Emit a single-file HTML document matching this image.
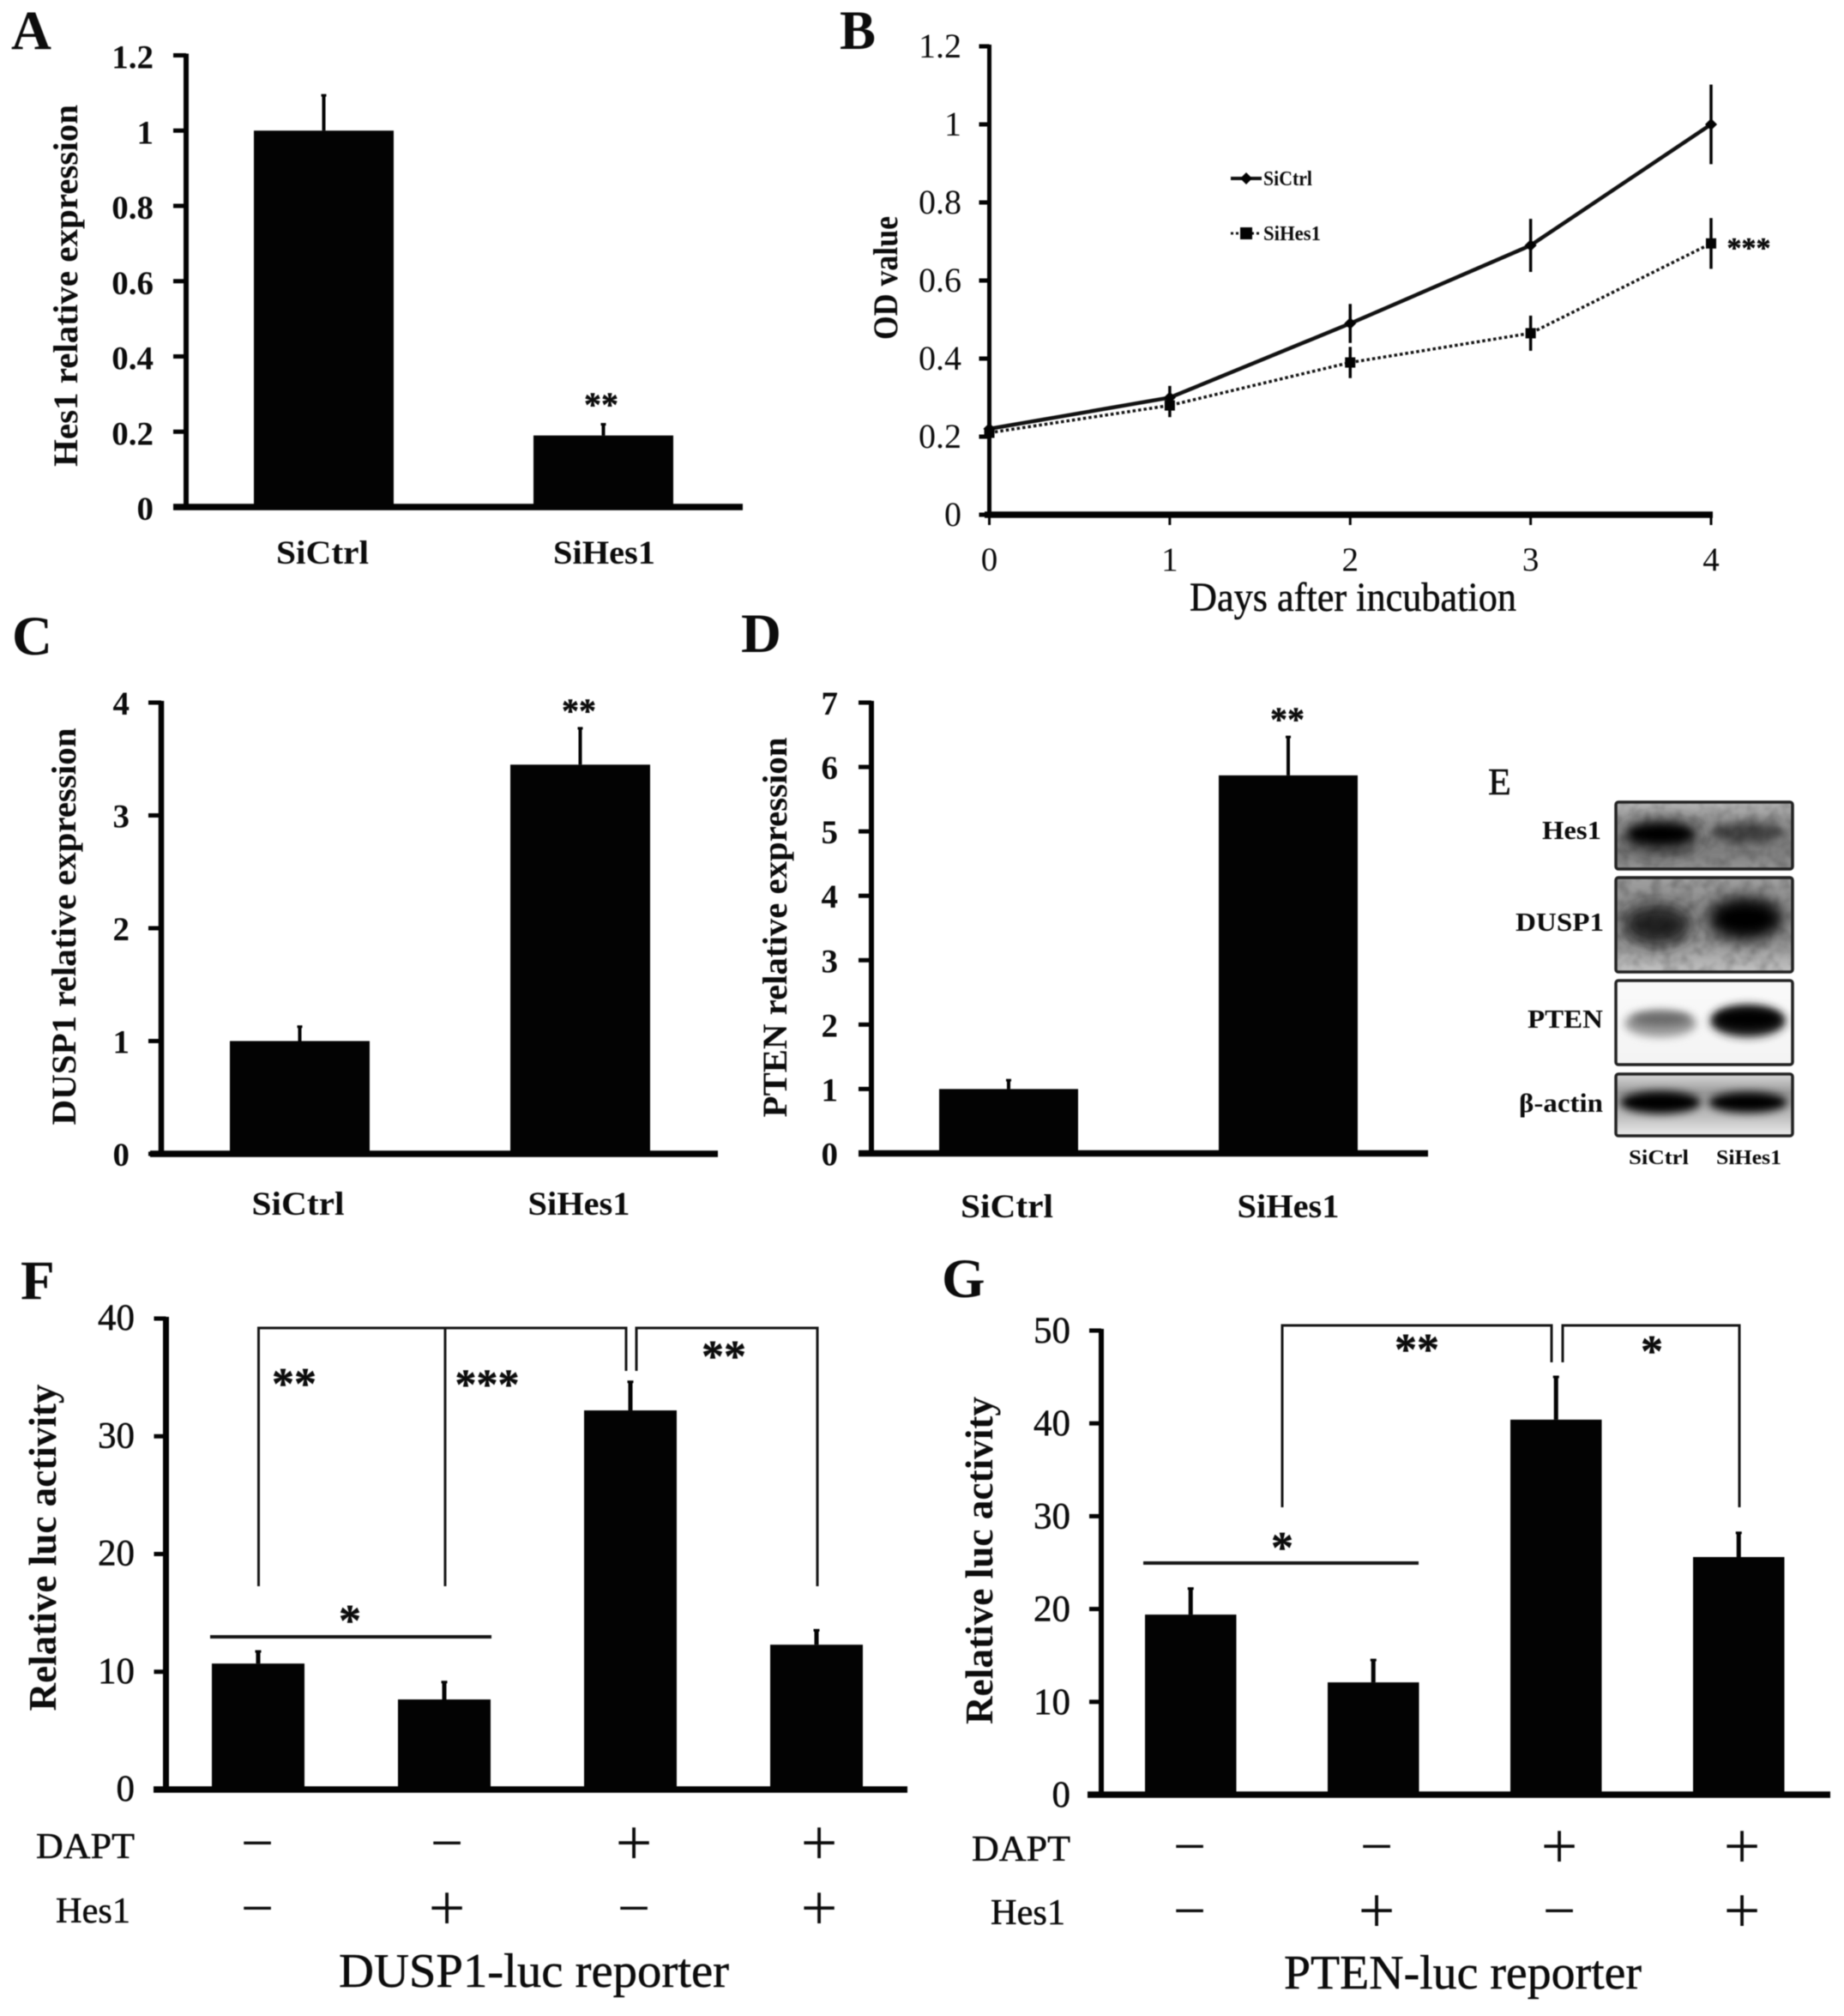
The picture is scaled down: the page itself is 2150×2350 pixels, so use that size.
<!DOCTYPE html>
<html lang="en">
<head>
<meta charset="utf-8">
<title>Hes1 knockdown figure panels</title>
<style>
html,body{margin:0;padding:0;background:#fff;width:2150px;height:2350px;overflow:hidden}
svg{display:block;filter:blur(0.55px)}
text{font-family:"Liberation Serif","DejaVu Serif",serif;fill:#0c0c0c}
.letter{font-size:65px;font-weight:bold}
.star{font-weight:bold;text-anchor:middle;stroke:#0c0c0c;stroke-width:.5px}
.lbl{stroke:#0c0c0c;stroke-width:.5px}
.br{stroke:#151515;stroke-width:3px;fill:none}
.bl{stroke:#151515;stroke-width:4px;fill:none}
.box{fill:none;stroke:#222;stroke-width:3.5px}
</style>
</head>
<body>
<svg id="figure" xmlns="http://www.w3.org/2000/svg" width="2150" height="2350" viewBox="0 0 2150 2350">
  <defs>
    <filter id="b4" x="-50%" y="-120%" width="200%" height="340%"><feGaussianBlur stdDeviation="5"/></filter>
    <filter id="b8" x="-50%" y="-120%" width="200%" height="340%"><feGaussianBlur stdDeviation="9"/></filter>
    <filter id="grain" x="0" y="0" width="100%" height="100%"><feTurbulence type="fractalNoise" baseFrequency="0.08" numOctaves="2" seed="4"/><feColorMatrix type="matrix" values="0 0 0 0 0 0 0 0 0 0 0 0 0 0 0 1.3 0 0 0 -0.5"/><feGaussianBlur stdDeviation="1"/></filter>
    <linearGradient id="g1" x1="0" y1="0" x2="0" y2="1"><stop offset="0" stop-color="#b8b8b8"/><stop offset=".3" stop-color="#8e8e8e"/><stop offset=".75" stop-color="#7e7e7e"/><stop offset="1" stop-color="#959595"/></linearGradient>
    <linearGradient id="g2" x1="0" y1="0" x2="0" y2="1"><stop offset="0" stop-color="#a0a0a0"/><stop offset=".3" stop-color="#8c8c8c"/><stop offset=".7" stop-color="#999"/><stop offset="1" stop-color="#c2c2c2"/></linearGradient>
    <linearGradient id="g3" x1="0" y1="0" x2="0" y2="1"><stop offset="0" stop-color="#fafafa"/><stop offset="1" stop-color="#f4f4f4"/></linearGradient>
    <linearGradient id="g4" x1="0" y1="0" x2="0" y2="1"><stop offset="0" stop-color="#d8d8d8"/><stop offset=".3" stop-color="#9a9a9a"/><stop offset=".7" stop-color="#c0c0c0"/><stop offset="1" stop-color="#ececec"/></linearGradient>
    <clipPath id="c1"><rect x="1884" y="935" width="206" height="78"/></clipPath>
    <clipPath id="c2"><rect x="1884" y="1023" width="206" height="110"/></clipPath>
    <clipPath id="c3"><rect x="1884" y="1143" width="206" height="98"/></clipPath>
    <clipPath id="c4"><rect x="1884" y="1252" width="206" height="72"/></clipPath>
  </defs>

  <!-- panel letters -->
  <text class="letter" x="13" y="57">A</text>
  <text class="letter" x="979" y="57" textLength="42" lengthAdjust="spacingAndGlyphs">B</text>
  <text class="letter" x="14" y="763">C</text>
  <text class="letter" x="864" y="760">D</text>
  <text x="1735" y="926" font-size="44" class="lbl">E</text>
  <text class="letter" x="24" y="1514">F</text>
  <text class="letter" x="1098" y="1512">G</text>

  <!-- panel E western blot -->
  <g id="western-blot">
    <g clip-path="url(#c1)">
      <rect x="1884" y="935" width="206" height="78" fill="url(#g1)"/>
      <ellipse cx="1937" cy="975" rx="44" ry="19" fill="#333" filter="url(#b8)"/>
      <ellipse cx="1936" cy="972" rx="38" ry="11" fill="#000" filter="url(#b4)"/>
      <ellipse cx="2037" cy="971" rx="42" ry="12" fill="#454545" filter="url(#b4)"/>
      <rect x="1884" y="935" width="206" height="78" filter="url(#grain)" opacity=".35"/>
    </g>
    <rect class="box" x="1884" y="935" width="206" height="78" rx="3"/>
    <g clip-path="url(#c2)">
      <rect x="1884" y="1023" width="206" height="110" fill="url(#g2)"/>
      <ellipse cx="1932" cy="1078" rx="40" ry="24" fill="#222" filter="url(#b8)"/>
      <ellipse cx="2035" cy="1071" rx="44" ry="25" fill="#000" filter="url(#b8)"/>
      <rect x="1884" y="1023" width="206" height="110" filter="url(#grain)" opacity=".35"/>
    </g>
    <rect class="box" x="1884" y="1023" width="206" height="110" rx="3"/>
    <g clip-path="url(#c3)">
      <rect x="1884" y="1143" width="206" height="98" fill="url(#g3)"/>
      <ellipse cx="1936" cy="1193" rx="42" ry="16" fill="#999" filter="url(#b4)"/>
      <ellipse cx="1937" cy="1188" rx="34" ry="7" fill="#666" filter="url(#b4)"/>
      <ellipse cx="2038" cy="1190" rx="44" ry="19" fill="#222" filter="url(#b4)"/>
      <ellipse cx="2038" cy="1188" rx="38" ry="11" fill="#000" filter="url(#b4)"/>
    </g>
    <rect class="box" x="1884" y="1143" width="206" height="98" rx="3"/>
    <g clip-path="url(#c4)">
      <rect x="1884" y="1252" width="206" height="72" fill="url(#g4)"/>
      <ellipse cx="1936" cy="1285" rx="47" ry="13" fill="#000" filter="url(#b4)"/>
      <ellipse cx="2038" cy="1285" rx="46" ry="12" fill="#000" filter="url(#b4)"/>
    </g>
    <rect class="box" x="1884" y="1252" width="206" height="72" rx="3"/>
    <text x="1798" y="978" font-size="31" font-weight="bold" textLength="69" lengthAdjust="spacingAndGlyphs">Hes1</text>
    <text x="1767" y="1085" font-size="31" font-weight="bold" textLength="103" lengthAdjust="spacingAndGlyphs">DUSP1</text>
    <text x="1781" y="1198" font-size="31" font-weight="bold" textLength="88" lengthAdjust="spacingAndGlyphs">PTEN</text>
    <text x="1771" y="1296" font-size="31" font-weight="bold" textLength="98" lengthAdjust="spacingAndGlyphs">β-actin</text>
    <text x="1899" y="1357" font-size="24" font-weight="bold" textLength="70" lengthAdjust="spacingAndGlyphs">SiCtrl</text>
    <text x="2001" y="1357" font-size="24" font-weight="bold" textLength="76" lengthAdjust="spacingAndGlyphs">SiHes1</text>
  </g>

  <!-- significance annotations -->
  <text class="star" x="701" y="485" font-size="40">**</text>
  <text class="star" x="2039" y="300" font-size="34">***</text>
  <text class="star" x="675" y="842" font-size="40">**</text>
  <text class="star" x="1501" y="852" font-size="40">**</text>

  <g>
    <path class="br" d="M301.5 1849V1548H730V1598"/>
    <path class="br" d="M519 1849V1548"/>
    <path class="br" d="M742 1598V1548H953V1849"/>
    <path class="bl" d="M245 1908H573"/>
    <text class="star" x="343" y="1630" font-size="52">**</text>
    <text class="star" x="568" y="1630" font-size="50">***</text>
    <text class="star" x="844" y="1598" font-size="52">**</text>
    <text class="star" x="408" y="1906" font-size="52">*</text>
  </g>
  <g>
    <path class="br" d="M1495 1757V1545H1809V1588"/>
    <path class="br" d="M1822 1588V1545H2028V1757"/>
    <path class="bl" d="M1333 1822H1654"/>
    <text class="star" x="1652" y="1590" font-size="52">**</text>
    <text class="star" x="1926" y="1592" font-size="52">*</text>
    <text class="star" x="1495" y="1821" font-size="52">*</text>
  </g>
</svg>

<script>
// ---- chart data ----
const panelACategories = ['SiCtrl', 'SiHes1'];
const panelAValues = [1.0, 0.19];
const panelAErrors = [0.096, 0.032];
const panelATicks = [0, 0.2, 0.4, 0.6, 0.8, 1, 1.2];

const panelBDays = [0, 1, 2, 3, 4];
const panelBCtrl = [0.22, 0.30, 0.49, 0.69, 1.0];
const panelBCtrlErrors = [0.01, 0.03, 0.05, 0.068, 0.102];
const panelBHes1 = [0.21, 0.28, 0.39, 0.465, 0.695];
const panelBHes1Errors = [0.01, 0.03, 0.04, 0.045, 0.065];
const panelBTicks = [0, 0.2, 0.4, 0.6, 0.8, 1, 1.2];

const panelCCategories = ['SiCtrl', 'SiHes1'];
const panelCValues = [1.0, 3.45];
const panelCErrors = [0.135, 0.33];
const panelCTicks = [0, 1, 2, 3, 4];

const panelDCategories = ['SiCtrl', 'SiHes1'];
const panelDValues = [1.0, 5.87];
const panelDErrors = [0.15, 0.61];
const panelDTicks = [0, 1, 2, 3, 4, 5, 6, 7];

const panelFValues = [10.7, 7.65, 32.2, 12.3];
const panelFErrors = [1.1, 1.55, 2.5, 1.3];
const panelFTicks = [0, 10, 20, 30, 40];
const panelFDapt = ['−', '−', '+', '+'];
const panelFHes1 = ['−', '+', '−', '+'];

const panelGValues = [19.4, 12.1, 40.4, 25.6];
const panelGErrors = [2.9, 2.5, 4.7, 2.7];
const panelGTicks = [0, 10, 20, 30, 40, 50];
const panelGDapt = ['−', '−', '+', '+'];
const panelGHes1 = ['−', '+', '−', '+'];

// ---- drawing helpers ----
const NS = 'http://www.w3.org/2000/svg';
const figure = document.getElementById('figure');
const INK = '#030303';

function mk(tag, parent, attrs) {
  const node = document.createElementNS(NS, tag);
  for (const k in attrs) node.setAttribute(k, attrs[k]);
  parent.appendChild(node);
  return node;
}
function label(parent, str, attrs) {
  const node = mk('text', parent, attrs);
  node.textContent = str;
  return node;
}
function linearAxis(domainMax, pxZero, pxMax) {
  return function (v) { return pxZero + (pxMax - pxZero) * v / domainMax; };
}

function drawAxes(g, L, ticks, y) {
  const yAxis = mk('rect', g, { x: L.axisX - L.axisW / 2, y: y(ticks[ticks.length - 1]) - 2, width: L.axisW, height: L.y0 - y(ticks[ticks.length - 1]) + 4, fill: INK });
  
  
  const xAxis = mk('rect', g, { x: L.xLeft, y: L.y0 - 3.75, width: L.xRight - L.xLeft, height: 7.5, fill: INK });
  
  
  ticks.forEach(function (t) {
    const mark = mk('rect', g, { x: L.axisX - L.tickLen, y: y(t) - 2.5, width: L.tickLen, height: 5, fill: INK });
    
    
    const tl = label(g, String(t), { x: L.tickRight, y: y(t) + L.tickDy, 'font-size': L.tickSize, 'font-weight': L.tickWeight, 'text-anchor': 'end', 'class': L.tickClass || '' });
    
    
  });
  const tx = L.title;
  const title = label(g, tx.text, { x: 0, y: 0, 'font-size': tx.size, 'font-weight': 'bold', 'text-anchor': 'middle', textLength: tx.len, lengthAdjust: 'spacingAndGlyphs', transform: 'translate(' + tx.x + ' ' + tx.y + ') rotate(-90)' });
  
  
}

function drawBars(g, L, values, errors, y) {
  values.forEach(function (v, i) {
    const left = L.barStart + i * L.barStep;
    const cx = left + L.barW / 2;
    const bar = mk('rect', g, { x: left, y: y(v), width: L.barW, height: L.y0 - y(v), fill: INK });
    
    
    const err = mk('line', g, { x1: cx, x2: cx, y1: y(v), y2: y(v + errors[i]), stroke: INK, 'stroke-width': L.errW });
    
    
    const cap = mk('line', g, { x1: cx - L.errW / 2 - 1, x2: cx + L.errW / 2 + 1, y1: y(v + errors[i]) + 1, y2: y(v + errors[i]) + 1, stroke: INK, 'stroke-width': 3 });
    
    
  });
}

function drawCategoryLabels(g, L, cats) {
  cats.forEach(function (c, i) {
    const cx = L.barStart + i * L.barStep + L.barW / 2 + L.catDx[i];
    const t = label(g, c, { x: cx, y: L.catY, 'font-size': 39, 'font-weight': 'bold', 'text-anchor': 'middle', textLength: L.catLens[i], lengthAdjust: 'spacingAndGlyphs' });
    
    
  });
}

function drawSigns(g, L, dapt, hes1) {
  const rows = [
    { vals: dapt, cy: L.row1Y, name: 'DAPT', lx: L.daptX, ly: L.daptY, len: L.daptLen },
    { vals: hes1, cy: L.row2Y, name: 'Hes1', lx: L.hesX, ly: L.hesY, len: L.hesLen }
  ];
  rows.forEach(function (r) {
    const head = label(g, r.name, { x: r.lx, y: r.ly, 'font-size': 42, textLength: r.len, lengthAdjust: 'spacingAndGlyphs', 'class': 'lbl' });
    
    
    r.vals.forEach(function (s, i) {
      const size = s === '+' ? 76 : 68;
      const t = label(g, s, { x: L.signX[i], y: r.cy + size * 0.32, 'font-size': size, 'text-anchor': 'middle' });
      
      
    });
  });
  const cap = label(g, L.caption.text, { x: L.caption.x, y: L.caption.y, 'font-size': 56, textLength: L.caption.len, lengthAdjust: 'spacingAndGlyphs', 'class': 'lbl' });
  
  
}

// ---- layout ----
const layoutA = { axisX: 217, axisW: 6, y0: 591, yTop: 64.5, xLeft: 202, xRight: 866, tickLen: 15, tickRight: 179, tickDy: 15, tickSize: 39, tickWeight: 'bold',
  barStart: 296, barStep: 326, barW: 163, errW: 4, catY: 657, catLens: [108, 119], catDx: [-1.5, 1],
  title: { text: 'Hes1 relative expression', x: 90, y: 333, size: 40, len: 422 } };
const layoutC = { axisX: 188, axisW: 6.5, y0: 1345, yTop: 819, xLeft: 175, xRight: 837, tickLen: 15, tickRight: 151, tickDy: 14, tickSize: 39, tickWeight: 'bold',
  barStart: 268, barStep: 327, barW: 163, errW: 4, catY: 1416, catLens: [108, 119], catDx: [-2, -1.5],
  title: { text: 'DUSP1 relative expression', x: 88, y: 1080, size: 40, len: 463 } };
const layoutD = { axisX: 1016, axisW: 6, y0: 1344.5, yTop: 819, xLeft: 1001, xRight: 1665, tickLen: 15, tickRight: 977, tickDy: 14, tickSize: 39, tickWeight: 'bold',
  barStart: 1095, barStep: 326, barW: 162, errW: 4, catY: 1419, catLens: [108, 119], catDx: [-2, 0],
  title: { text: 'PTEN relative expression', x: 917, y: 1081, size: 40, len: 443 } };
const layoutF = { axisX: 193.5, axisW: 7, y0: 2086, yTop: 1537, xLeft: 179, xRight: 1058, tickLen: 14, tickRight: 157, tickDy: 13, tickSize: 43, tickWeight: 'normal', tickClass: 'lbl',
  barStart: 247, barStep: 217, barW: 108, errW: 5,
  title: { text: 'Relative luc activity', x: 65, y: 1804, size: 46, len: 381 },
  signX: [300, 521, 739, 955], row1Y: 2149, row2Y: 2225, daptX: 42, daptY: 2166, daptLen: 115, hesX: 65, hesY: 2241, hesLen: 87,
  caption: { text: 'DUSP1-luc reporter', x: 395, y: 2316, len: 455 } };
const layoutG = { axisX: 1284, axisW: 6, y0: 2092, yTop: 1551, xLeft: 1268, xRight: 2134, tickLen: 14, tickRight: 1248, tickDy: 14, tickSize: 43, tickWeight: 'normal', tickClass: 'lbl',
  barStart: 1335, barStep: 213, barW: 106.5, errW: 5,
  title: { text: 'Relative luc activity', x: 1157, y: 1819, size: 46, len: 382 },
  signX: [1387, 1605, 1818, 2031], row1Y: 2153, row2Y: 2228, daptX: 1133, daptY: 2169, daptLen: 115, hesX: 1155, hesY: 2243, hesLen: 87,
  caption: { text: 'PTEN-luc reporter', x: 1497, y: 2318, len: 417 } };

// ---- panels A, C, D ----
const gA = mk('g', figure, {});


const yA = linearAxis(1.2, layoutA.y0, layoutA.yTop);
drawAxes(gA, layoutA, panelATicks, yA);
drawBars(gA, layoutA, panelAValues, panelAErrors, yA);
drawCategoryLabels(gA, layoutA, panelACategories);

const gC = mk('g', figure, {});


const yC = linearAxis(4, layoutC.y0, layoutC.yTop);
drawAxes(gC, layoutC, panelCTicks, yC);
drawBars(gC, layoutC, panelCValues, panelCErrors, yC);
drawCategoryLabels(gC, layoutC, panelCCategories);

const gD = mk('g', figure, {});


const yD = linearAxis(7, layoutD.y0, layoutD.yTop);
drawAxes(gD, layoutD, panelDTicks, yD);
drawBars(gD, layoutD, panelDValues, panelDErrors, yD);
drawCategoryLabels(gD, layoutD, panelDCategories);

// ---- panels F, G ----
const gF = mk('g', figure, {});


const yF = linearAxis(40, layoutF.y0, layoutF.yTop);
drawAxes(gF, layoutF, panelFTicks, yF);
drawBars(gF, layoutF, panelFValues, panelFErrors, yF);
drawSigns(gF, layoutF, panelFDapt, panelFHes1);

const gG = mk('g', figure, {});


const yG = linearAxis(50, layoutG.y0, layoutG.yTop);
drawAxes(gG, layoutG, panelGTicks, yG);
drawBars(gG, layoutG, panelGValues, panelGErrors, yG);
drawSigns(gG, layoutG, panelGDapt, panelGHes1);

// ---- panel B line chart ----
const layoutB = { axisX: 1153.5, axisW: 5, y0: 600, yTop: 54, xLeft: 1148, xRight: 1997, tickLen: 12, tickRight: 1121, tickDy: 13, tickSize: 40, tickWeight: 'normal',
  title: { text: 'OD value', x: 1046, y: 324, size: 40, len: 144 } };
const gB = mk('g', figure, {});


const yB = linearAxis(1.2, layoutB.y0, layoutB.yTop);
const xB = linearAxis(4, 1153.5, 1995);
drawAxes(gB, layoutB, panelBTicks, yB);

panelBDays.forEach(function (d) {
  const tick = mk('line', gB, { x1: xB(d), x2: xB(d), y1: layoutB.y0, y2: layoutB.y0 + 12, stroke: INK, 'stroke-width': 3 });
  
  
  const tl = label(gB, String(d), { x: xB(d), y: 665, 'font-size': 39, 'text-anchor': 'middle' });
  
  
});
const xTitle = label(gB, 'Days after incubation', { x: 1387, y: 712, 'font-size': 48, textLength: 381, lengthAdjust: 'spacingAndGlyphs', 'class': 'lbl' });



function linePoints(vals) {
  return vals.map(function (v, i) { return xB(panelBDays[i]) + ',' + yB(v); }).join(' ');
}
function drawErrors(vals, errs, sw) {
  vals.forEach(function (v, i) {
    const e = mk('line', gB, { x1: xB(panelBDays[i]), x2: xB(panelBDays[i]), y1: yB(v - errs[i]), y2: yB(v + errs[i]), stroke: INK, 'stroke-width': sw });
    
    
  });
}
drawErrors(panelBHes1, panelBHes1Errors, 3.5);
drawErrors(panelBCtrl, panelBCtrlErrors, 3.5);

const lineHes1 = mk('polyline', gB, { points: linePoints(panelBHes1), fill: 'none', stroke: '#111', 'stroke-width': 3.5, 'stroke-dasharray': '3.5 3' });


const lineCtrl = mk('polyline', gB, { points: linePoints(panelBCtrl), fill: 'none', stroke: '#111', 'stroke-width': 4.5 });



panelBHes1.forEach(function (v, i) {
  const m = mk('rect', gB, { x: xB(panelBDays[i]) - 6, y: yB(v) - 6, width: 12, height: 12, fill: INK });
  
  
});
panelBCtrl.forEach(function (v, i) {
  const cx = xB(panelBDays[i]), cy = yB(v);
  const m = mk('polygon', gB, { points: (cx - 7) + ',' + cy + ' ' + cx + ',' + (cy - 7) + ' ' + (cx + 7) + ',' + cy + ' ' + cx + ',' + (cy + 7), fill: INK });
  
  
});

// legend for panel B
const legend = mk('g', gB, {});


const legendLineCtrl = mk('line', legend, { x1: 1435, x2: 1471, y1: 208, y2: 208, stroke: '#111', 'stroke-width': 4 });


const legendMarkCtrl = mk('polygon', legend, { points: '1446,208 1453,201 1460,208 1453,215', fill: INK });


const legendTextCtrl = label(legend, 'SiCtrl', { x: 1473, y: 216, 'font-size': 24, 'font-weight': 'bold', textLength: 57, lengthAdjust: 'spacingAndGlyphs' });


const legendLineHes = mk('line', legend, { x1: 1435, x2: 1471, y1: 272, y2: 272, stroke: '#111', 'stroke-width': 3, 'stroke-dasharray': '3 3' });


const legendMarkHes = mk('rect', legend, { x: 1446, y: 265, width: 14, height: 14, fill: INK });


const legendTextHes = label(legend, 'SiHes1', { x: 1473, y: 280, 'font-size': 24, 'font-weight': 'bold', textLength: 67, lengthAdjust: 'spacingAndGlyphs' });


</script>
</body>
</html>
